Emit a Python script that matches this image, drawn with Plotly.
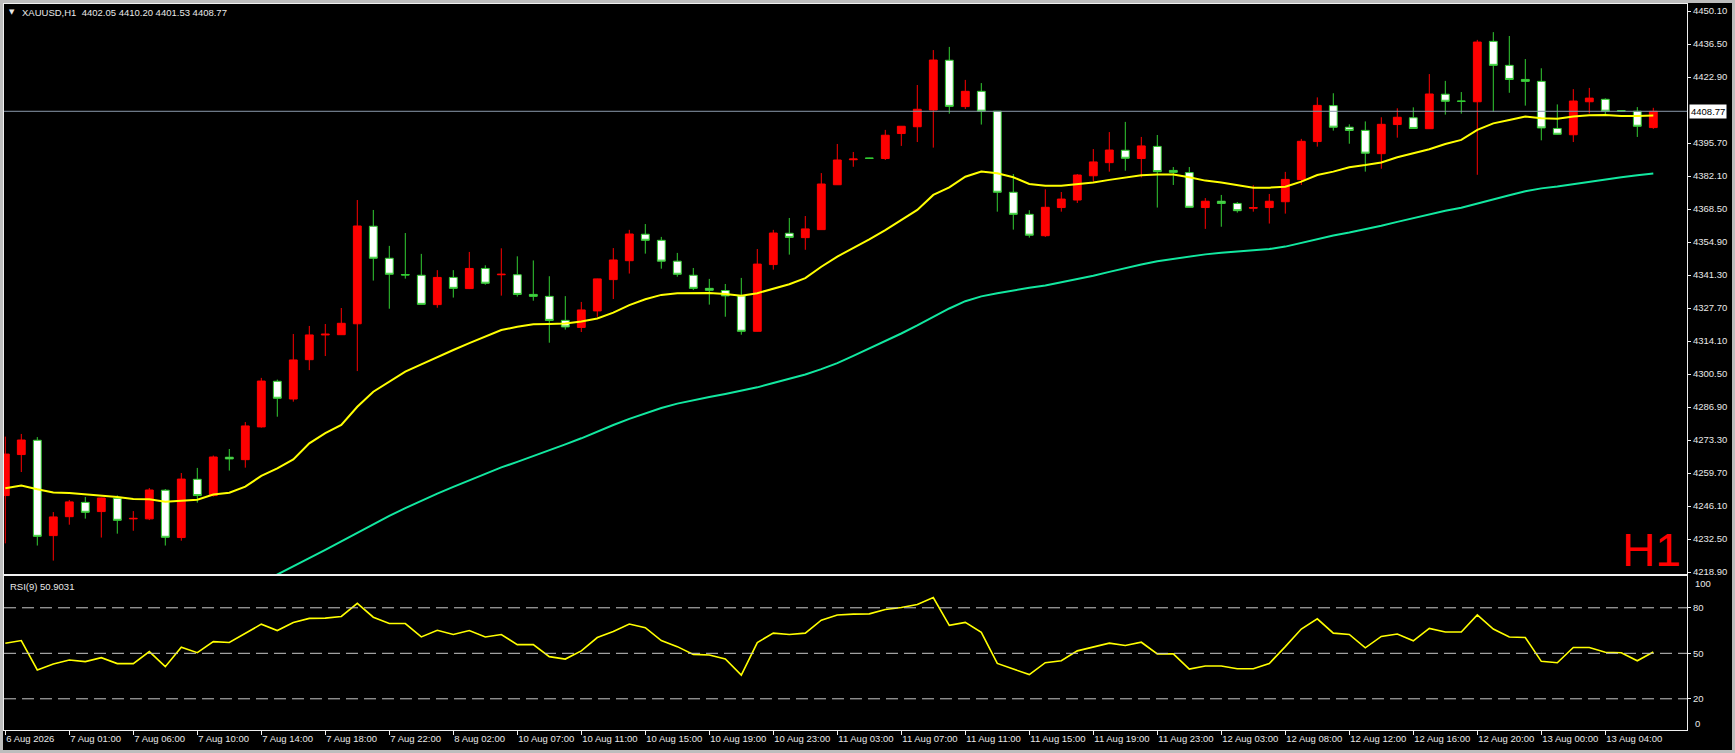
import plotly.graph_objects as go

# ---------------- data ----------------
opens = [4250.4, 4267.3, 4273.2, 4233.9, 4241.7, 4247.6, 4243.8, 4249.3, 4240.8, 4240.8,
         4252.6, 4233.1, 4257.1, 4250.4, 4266.2, 4265.2, 4278.7, 4297.5, 4290.2, 4306.4,
         4316.6, 4316.7, 4321.2, 4361.4, 4348.2, 4341.5, 4341.2, 4329.1, 4340.3, 4335.7,
         4344.0, 4341.4, 4341.4, 4333.3, 4332.5, 4322.6, 4319.7, 4326.5, 4339.4, 4347.2,
         4358.1, 4355.6, 4347.0, 4341.2, 4335.8, 4334.9, 4332.7, 4318.1, 4345.6, 4358.5,
         4356.7, 4360.0, 4378.5, 4388.8, 4389.5, 4389.3, 4399.6, 4402.4, 4409.3, 4429.8,
         4410.7, 4417.0, 4408.8, 4375.4, 4366.3, 4357.5, 4369.1, 4372.2, 4382.2, 4387.6,
         4392.7, 4389.3, 4394.3, 4384.4, 4383.5, 4369.1, 4371.7, 4370.8, 4368.8, 4369.1,
         4371.5, 4380.6, 4396.3, 4411.1, 4402.2, 4400.9, 4391.3, 4403.3, 4406.1, 4401.6,
         4415.8, 4413.0, 4412.7, 4437.6, 4427.7, 4421.9, 4421.1, 4401.7, 4399.1, 4412.7,
         4413.7, 4409.0, 4408.8, 4402.05]
highs = [4274.7, 4275.8, 4274.5, 4243.6, 4248.6, 4249.8, 4249.5, 4250.5, 4244.0, 4253.5,
         4253.1, 4259.7, 4261.8, 4266.9, 4269.6, 4280.7, 4298.9, 4298.2, 4317.0, 4320.3,
         4321.1, 4327.7, 4372.2, 4368.1, 4353.3, 4358.6, 4350.0, 4343.3, 4343.3, 4350.8,
         4345.3, 4352.3, 4349.0, 4347.3, 4340.8, 4332.6, 4330.2, 4339.8, 4352.4, 4359.9,
         4362.3, 4357.0, 4350.4, 4344.2, 4339.7, 4337.6, 4340.1, 4352.0, 4359.9, 4364.8,
         4365.6, 4383.3, 4395.3, 4392.0, 4389.6, 4401.1, 4402.7, 4419.6, 4434.0, 4435.3,
         4421.7, 4420.4, 4408.9, 4382.9, 4368.0, 4376.6, 4375.5, 4382.9, 4393.2, 4400.2,
         4404.4, 4398.2, 4399.0, 4385.8, 4385.8, 4373.0, 4374.3, 4371.4, 4378.3, 4374.7,
         4383.8, 4397.4, 4414.5, 4416.2, 4403.4, 4404.6, 4406.3, 4410.0, 4410.4, 4424.1,
         4421.3, 4416.7, 4438.2, 4441.4, 4439.8, 4430.3, 4426.5, 4411.6, 4417.9, 4418.4,
         4414.1, 4409.1, 4410.5, 4410.20]
lows = [4230.7, 4260.1, 4229.8, 4223.6, 4238.4, 4240.9, 4233.1, 4234.7, 4235.9, 4240.3,
        4229.8, 4231.8, 4247.5, 4250.0, 4260.7, 4261.9, 4278.4, 4282.9, 4289.1, 4302.1,
        4307.9, 4316.6, 4301.7, 4339.0, 4327.4, 4339.8, 4329.1, 4327.8, 4332.0, 4335.5,
        4337.3, 4332.8, 4332.4, 4330.7, 4313.4, 4318.8, 4317.8, 4324.1, 4331.4, 4341.9,
        4350.1, 4343.9, 4340.6, 4335.1, 4329.1, 4324.1, 4316.7, 4318.0, 4343.5, 4349.7,
        4351.7, 4359.9, 4378.4, 4385.9, 4389.2, 4388.7, 4394.5, 4396.1, 4393.8, 4407.8,
        4409.7, 4403.3, 4367.4, 4360.0, 4356.7, 4357.0, 4367.4, 4371.0, 4379.8, 4383.9,
        4384.3, 4381.5, 4369.1, 4378.4, 4369.1, 4360.3, 4361.2, 4367.0, 4367.4, 4362.5,
        4366.6, 4378.4, 4394.2, 4400.8, 4395.4, 4383.9, 4385.1, 4397.9, 4401.6, 4401.5,
        4407.4, 4407.8, 4382.6, 4408.6, 4416.4, 4411.1, 4396.8, 4399.1, 4396.1, 4407.9,
        4407.2, 4408.7, 4398.2, 4401.53]
closes = [4267.5, 4273.3, 4233.6, 4241.6, 4247.8, 4243.5, 4249.4, 4240.2, 4241.0, 4252.7,
          4233.2, 4257.2, 4250.4, 4266.3, 4265.5, 4279.1, 4297.6, 4290.5, 4306.3, 4316.6,
          4316.9, 4321.4, 4361.5, 4348.2, 4341.6, 4341.3, 4329.2, 4340.3, 4335.8, 4344.0,
          4337.9, 4341.6, 4333.3, 4332.5, 4322.6, 4319.9, 4326.9, 4339.7, 4347.5, 4358.2,
          4355.6, 4347.0, 4341.6, 4335.8, 4335.0, 4332.7, 4318.1, 4345.8, 4358.6, 4356.8,
          4360.3, 4378.8, 4388.7, 4389.1, 4389.4, 4398.9, 4402.6, 4409.6, 4429.9, 4410.8,
          4417.0, 4408.8, 4375.4, 4366.3, 4357.7, 4369.2, 4372.6, 4382.5, 4387.9, 4392.8,
          4389.4, 4394.5, 4383.9, 4383.6, 4369.2, 4371.7, 4370.8, 4367.8, 4369.1, 4371.7,
          4380.7, 4396.4, 4411.2, 4402.2, 4400.9, 4391.5, 4403.4, 4406.3, 4401.7, 4415.9,
          4412.9, 4412.9, 4437.3, 4427.7, 4421.9, 4421.1, 4401.9, 4399.3, 4413.0, 4414.2,
          4408.8, 4408.9, 4402.6, 4408.77]
ma_fast = [4253.4, 4254.5, 4253.0, 4251.7, 4251.5, 4250.9, 4250.6, 4249.8, 4249.0, 4248.9,
           4247.9, 4248.3, 4248.7, 4250.8, 4251.6, 4254.1, 4258.5, 4261.6, 4265.3, 4271.9,
           4276.1, 4279.5, 4287.0, 4293.2, 4297.3, 4301.5, 4304.5, 4307.6, 4310.4, 4313.2,
           4315.9, 4318.6, 4320.0, 4321.0, 4321.1, 4321.3, 4322.1, 4323.4, 4325.8, 4328.9,
           4331.3, 4333.1, 4333.8, 4333.9, 4333.9, 4333.5, 4332.8, 4333.8, 4335.8, 4337.5,
           4340.0, 4344.7, 4348.9, 4352.3, 4356.0, 4359.8, 4364.0, 4368.1, 4374.3, 4377.4,
           4381.8, 4383.9, 4383.2, 4381.6, 4378.8, 4378.1, 4378.1, 4378.7, 4379.4, 4380.5,
           4381.6, 4382.4, 4382.7, 4382.7, 4381.6, 4380.2, 4379.4, 4378.4, 4377.3, 4377.3,
           4377.7, 4379.8, 4382.5, 4383.9, 4385.7, 4386.6, 4387.7, 4389.8, 4391.5, 4393.1,
           4395.3, 4397.0, 4401.1, 4403.8, 4405.2, 4406.6, 4405.9, 4405.7, 4406.6, 4407.1,
           4407.2, 4406.8, 4406.8, 4407.0]
ma_slow = [None] * 16 + [
           4214.5, 4217.8, 4221.1, 4224.5, 4228.0, 4231.5, 4235.0, 4238.6, 4242.0, 4245.2,
           4248.3, 4251.2, 4254.0, 4256.7, 4259.5, 4262.0, 4264.3, 4266.6, 4269.0, 4271.5,
           4274.0, 4276.8, 4279.5, 4282.0, 4284.3, 4286.5, 4288.3, 4289.8, 4291.0, 4292.3,
           4293.6, 4295.0, 4296.8, 4298.5, 4300.3, 4302.5, 4305.0, 4308.0, 4311.0, 4314.0,
           4317.2, 4320.5, 4324.0, 4327.5, 4330.5, 4332.5, 4333.8, 4335.0, 4336.0, 4337.0,
           4338.3, 4339.6, 4341.0, 4342.6, 4344.2, 4345.6, 4347.0, 4348.0, 4349.0, 4349.8,
           4350.5, 4351.0, 4351.6, 4352.0, 4353.0, 4354.6, 4356.3, 4357.6, 4358.8, 4360.1,
           4361.6, 4363.2, 4364.8, 4366.4, 4367.8, 4369.0, 4370.8, 4372.5, 4374.2, 4375.8,
           4377.0, 4377.8, 4378.8, 4379.8, 4380.8, 4381.6, 4382.4, 4383.1]
rsi = [56.6, 58.4, 39.0, 42.9, 45.6, 44.5, 47.1, 43.2, 43.2, 51.1,
       41.2, 54.0, 50.4, 57.7, 57.1, 63.2, 69.2, 65.0, 70.3, 73.0,
       73.2, 74.3, 82.9, 73.8, 69.6, 69.6, 60.8, 65.2, 62.4, 65.0,
       60.8, 62.4, 55.7, 55.7, 47.8, 46.2, 51.6, 60.4, 64.4, 69.3,
       66.9, 58.4, 54.4, 49.3, 48.9, 46.2, 35.6, 57.1, 63.3, 62.4,
       63.3, 71.8, 75.3, 75.8, 76.0, 78.9, 80.2, 82.2, 86.7, 68.4,
       70.4, 63.8, 43.3, 39.6, 36.0, 43.8, 45.1, 51.6, 54.0, 56.7,
       55.1, 57.3, 49.6, 49.6, 39.6, 41.6, 41.6, 39.8, 39.8, 43.3,
       54.4, 66.0, 72.7, 63.3, 62.4, 53.6, 61.1, 62.7, 58.2, 66.4,
       64.0, 64.0, 75.3, 66.0, 60.7, 60.4, 44.7, 43.8, 53.8, 53.8,
       50.7, 50.4, 45.1, 50.9]
rsi_last_text = "50.9031"
time_labels = ["6 Aug 2026", "7 Aug 01:00", "7 Aug 06:00", "7 Aug 10:00", "7 Aug 14:00",
               "7 Aug 18:00", "7 Aug 22:00", "8 Aug 02:00", "10 Aug 07:00", "10 Aug 11:00",
               "10 Aug 15:00", "10 Aug 19:00", "10 Aug 23:00", "11 Aug 03:00", "11 Aug 07:00",
               "11 Aug 11:00", "11 Aug 15:00", "11 Aug 19:00", "11 Aug 23:00", "12 Aug 03:00",
               "12 Aug 08:00", "12 Aug 12:00", "12 Aug 16:00", "12 Aug 20:00", "13 Aug 00:00",
               "13 Aug 04:00"]
label_every = 4
price_ticks = [4450.10, 4436.50, 4422.90, 4395.70, 4382.10, 4368.50, 4354.90, 4341.30,
               4327.70, 4314.10, 4300.50, 4286.90, 4273.30, 4259.70, 4246.10, 4232.50, 4218.90]
rsi_levels = [20, 50, 80]
symbol = "XAUUSD,H1"
last_price = 4408.77
rsi_period = 9

# ---------------- figure ----------------
bars = list(range(len(closes)))
W, H = 1735, 753
ML, MR, MT, MB = 4, 48, 4, 23
PW, PH = W - ML - MR, H - MT - MB

def px_x(p):
    return (p - ML) / PW

def px_y(p):
    return (H - MB - p) / PH

FONT = "Liberation Sans"
TXT = "#e8e8e8"
BORDER = "#f0f0f0"

fig = go.Figure()
fig.add_trace(go.Candlestick(
    x=bars, open=opens, high=highs, low=lows, close=closes,
    xaxis="x", yaxis="y", whiskerwidth=0,
    increasing=dict(line=dict(color="#ff0000", width=1), fillcolor="#ff0000"),
    decreasing=dict(line=dict(color="#32cd32", width=1), fillcolor="#ffffff"),
    showlegend=False, hoverinfo="skip"))
fig.add_trace(go.Scatter(x=bars, y=ma_slow, mode="lines", xaxis="x", yaxis="y",
                         line=dict(color="#12e8a0", width=2), showlegend=False,
                         hoverinfo="skip"))
fig.add_trace(go.Scatter(x=bars, y=ma_fast, mode="lines", xaxis="x", yaxis="y",
                         line=dict(color="#ffff00", width=2), showlegend=False,
                         hoverinfo="skip"))
fig.add_trace(go.Scatter(x=bars, y=rsi, mode="lines", xaxis="x2", yaxis="y2",
                         line=dict(color="#ffff00", width=1.6), showlegend=False,
                         hoverinfo="skip"))

x_lo = (ML - 5.3) / 16.0
x_hi = (ML + PW - 5.3) / 16.0
main_bottom = px_y(574)
rsi_top = px_y(576)
y_lo = 4450.10 - (574 - 11) / 2.4265
y_hi = 4450.10 + (11 - MT) / 2.4265

axis_common = dict(showgrid=False, zeroline=False, showline=True, mirror=True,
                   linecolor=BORDER, linewidth=1)

fig.update_layout(
    width=W, height=H,
    margin=dict(l=ML, r=MR, t=MT, b=MB, pad=0),
    paper_bgcolor="#000000", plot_bgcolor="#000000",
    font=dict(family=FONT, size=9.5, color=TXT),
    hovermode=False,
    xaxis=dict(domain=[0, 1], anchor="y", range=[x_lo, x_hi], showticklabels=False,
               ticks="", rangeslider=dict(visible=False), **axis_common),
    yaxis=dict(domain=[main_bottom, 1], anchor="x", side="right", range=[y_lo, y_hi],
               tickvals=price_ticks, ticktext=[f"{v:.2f}" for v in price_ticks],
               ticks="outside", ticklen=3, tickcolor=BORDER,
               tickfont=dict(family=FONT, size=9.5, color=TXT), **axis_common),
    xaxis2=dict(domain=[0, 1], anchor="y2", range=[x_lo, x_hi],
                tickvals=[i * label_every for i in range(len(time_labels))],
                ticktext=time_labels, ticks="outside", ticklen=4, tickcolor=BORDER,
                ticklabelposition="outside right", tickangle=0,
                tickfont=dict(family=FONT, size=9.5, color=TXT), **axis_common),
    yaxis2=dict(domain=[0, rsi_top], anchor="x2", side="right",
                range=[50 - (730 - 653.3) / 1.517, 50 + (653.3 - 576) / 1.517],
                tickvals=rsi_levels, ticktext=[str(v) for v in rsi_levels],
                ticks="outside", ticklen=3, tickcolor=BORDER,
                tickfont=dict(family=FONT, size=9.5, color=TXT), **axis_common),
)

shapes = []
# current price line
shapes.append(dict(type="line", xref="paper", yref="y", x0=0, x1=1,
                   y0=last_price, y1=last_price, line=dict(color="#8a9aab", width=1)))
# RSI levels
for lv in rsi_levels:
    shapes.append(dict(type="line", xref="paper", yref="y2", x0=0, x1=1, y0=lv, y1=lv,
                       line=dict(color="#c8c8c8", width=1, dash="12px,6px")))
# window frame
frame = "#bdbdbd"
shapes += [
    dict(type="rect", xref="paper", yref="paper", x0=px_x(0), x1=px_x(3),
         y0=px_y(H), y1=px_y(0), fillcolor=frame, line=dict(width=0)),
    dict(type="rect", xref="paper", yref="paper", x0=px_x(W - 3), x1=px_x(W),
         y0=px_y(H), y1=px_y(0), fillcolor=frame, line=dict(width=0)),
    dict(type="rect", xref="paper", yref="paper", x0=px_x(0), x1=px_x(W),
         y0=px_y(3), y1=px_y(0), fillcolor=frame, line=dict(width=0)),
    dict(type="rect", xref="paper", yref="paper", x0=px_x(0), x1=px_x(W),
         y0=px_y(H), y1=px_y(H - 3), fillcolor=frame, line=dict(width=0)),
]
fig.update_layout(shapes=shapes)

ohlc_text = f"{opens[-1]:.2f} {highs[-1]:.2f} {lows[-1]:.2f} {closes[-1]:.2f}"
annotations = [
    dict(text="▼", xref="paper", yref="paper", x=px_x(11.7), y=px_y(12.5),
         xanchor="center", yanchor="middle", showarrow=False,
         font=dict(family="DejaVu Sans", size=7, color=TXT)),
    dict(text=f"{symbol}\u00a0\u00a0{ohlc_text}", xref="paper", yref="paper",
         x=px_x(19.5), y=px_y(12.7), xanchor="left", yanchor="middle", showarrow=False,
         font=dict(family=FONT, size=9.5, color=TXT)),
    dict(text=f"RSI({rsi_period}) {rsi_last_text}",
         xref="paper", yref="paper", x=px_x(8), y=px_y(586), xanchor="left",
         yanchor="middle", showarrow=False, font=dict(family=FONT, size=9.5, color=TXT)),
    dict(text="H1", xref="paper", yref="paper", x=px_x(1683), y=px_y(550),
         xanchor="right", yanchor="middle", showarrow=False,
         font=dict(family=FONT, size=46, color="#ff0000")),
    dict(text=f"{last_price:.2f}", xref="paper", yref="y", x=px_x(1688.5), y=last_price,
         xanchor="left", yanchor="middle", showarrow=False, bgcolor="#ffffff",
         borderpad=1, font=dict(family=FONT, size=9.5, color="#000000")),
    dict(text="100", xref="paper", yref="y2", x=px_x(1692.5), y=96.3, xanchor="left",
         yanchor="middle", showarrow=False, font=dict(family=FONT, size=9.5, color=TXT)),
    dict(text="0", xref="paper", yref="y2", x=px_x(1692.5), y=3.4, xanchor="left",
         yanchor="middle", showarrow=False, font=dict(family=FONT, size=9.5, color=TXT)),
]
fig.update_layout(annotations=annotations)

fig.write_html("out.html", config={"displayModeBar": False},
               post_script="document.body.style.margin='0';document.body.style.overflow='hidden';")
